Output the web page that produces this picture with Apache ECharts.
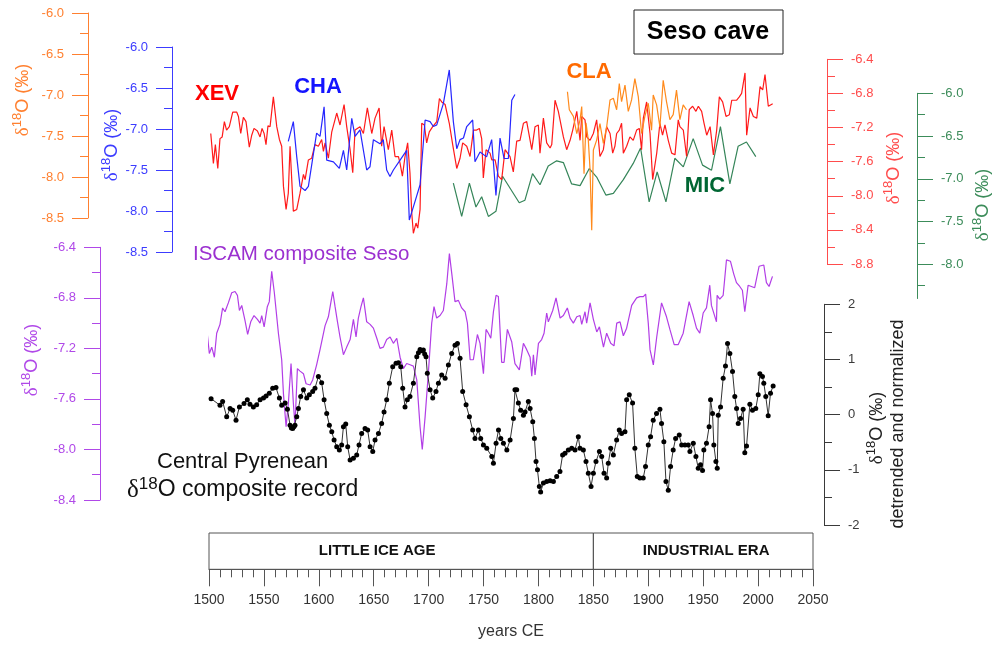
<!DOCTYPE html>
<html><head><meta charset="utf-8">
<script src="https://cdn.jsdelivr.net/npm/echarts@6/dist/echarts.min.js"></script>
<style>html,body{margin:0;padding:0;background:#fff}#c{width:994px;height:645px}</style>
</head><body><div id="c"></div><script>
// ---------- DATA (year CE, δ18O ‰) ----------
const xev = [[1501.6,-7.27],[1504,-7.62],[1505.8,-7.40],[1508,-7.68],[1510,-7.33],[1512,-7.31],[1514,-7.13],[1516,-7.23],[1518.5,-7.19],[1521.6,-7.02],[1525.3,-7.02],[1526.8,-7.07],[1528.9,-7.27],[1531.3,-7.08],[1533.7,-7.13],[1536.7,-7.43],[1538.9,-7.29],[1541,-7.21],[1544.1,-7.24],[1546.5,-7.31],[1548.3,-7.21],[1550.2,-7.27],[1551.9,-7.40],[1553.7,-7.18],[1555.6,-7.19],[1558.6,-6.84],[1561.7,-7.19],[1564.1,-7.34],[1566.2,-7.42],[1567.8,-7.89],[1570.2,-8.16],[1572.2,-7.97],[1573.8,-7.42],[1576.8,-8.18],[1579.9,-8.16],[1582.9,-7.97],[1586,-7.75],[1587.5,-7.81],[1590.5,-7.58],[1593.5,-7.56],[1596.5,-7.40],[1599.6,-7.42],[1602.6,-7.34],[1604.2,-7.48],[1605.7,-7.38],[1608.7,-7.56],[1611.8,-7.25],[1614.7,-7.11],[1616.3,-7.03],[1619.3,-7.17],[1623,-6.93],[1625.4,-7.19],[1628.5,-7.46],[1630.9,-7.73],[1633,-7.23],[1637.5,-7.19],[1640.6,-7.27],[1644.2,-6.97],[1648.2,-7.27],[1651.2,-7.09],[1654.9,-6.97],[1657.2,-7.42],[1659.4,-7.19],[1663.3,-7.46],[1666.4,-7.23],[1669.4,-7.54],[1672.5,-7.54],[1674,-7.62],[1676.1,-7.77],[1678.5,-7.54],[1680.9,-7.38],[1683,-7.73],[1684.6,-8.20],[1686.1,-8.44],[1688.5,-8.32],[1690.1,-8.38],[1692.2,-8.16],[1693.7,-7.15],[1696.1,-7.17],[1698.2,-7.38],[1700.6,-7.25],[1703.7,-7.19],[1707.4,-7.13],[1709.8,-6.86],[1711.9,-6.90],[1715,-6.93],[1718.8,-7.15],[1721.9,-7.40],[1725.6,-7.68],[1728.6,-7.56],[1731,-7.38],[1734.7,-7.42],[1737.7,-7.54],[1740.8,-7.23],[1743.7,-7.23],[1746.2,-7.21],[1748.3,-7.33],[1749.8,-7.79],[1752.3,-7.46],[1755.9,-7.50],[1757.5,-7.58],[1760.5,-7.58],[1763.5,-7.77],[1766.5,-7.81],[1769.6,-7.46],[1774.1,-7.54],[1777.1,-7.72],[1780.2,-7.36],[1783.2,-7.35],[1786.3,-7.15],[1789.3,-7.13],[1792.4,-7.35],[1793.9,-7.46],[1796.9,-7.19],[1799.9,-7.17],[1801.4,-7.50],[1804.5,-7.09],[1807.5,-7.38],[1810.6,-7.44],[1812.1,-7.40],[1815.1,-6.88],[1818.1,-7.01],[1819.6,-6.99],[1822.7,-7.31],[1825.7,-7.46],[1828.8,-7.35],[1831.2,-7.23],[1834.9,-7.01],[1837.9,-7.35],[1839.4,-7.07],[1842.4,-7.11],[1843.9,-7.31],[1847,-7.35],[1850,-7.27],[1853,-7.11],[1856,-7.54],[1859.1,-7.46],[1862.1,-7.19],[1865.2,-7.27],[1867.6,-7.50],[1869.6,-7.42],[1871.2,-7.27],[1873.6,-7.23],[1875.7,-7.15],[1877.3,-7.50],[1880.3,-7.42],[1883.3,-7.31],[1886.3,-7.35],[1889.4,-7.23],[1891.8,-7.21],[1893.9,-7.46],[1895.5,-7.09],[1898.5,-6.90],[1901.6,-7.27],[1904,-7.81],[1907.7,-7.50],[1910.6,-7.15],[1913,-7.29],[1915.2,-7.17],[1918.2,-7.35],[1921.3,-7.50],[1924.3,-7.52],[1927.3,-7.11],[1928.8,-7.19],[1931.9,-7.23],[1934.9,-7.54],[1937.3,-6.99],[1940.4,-6.95],[1943.4,-7.01],[1945.6,-6.95],[1948.6,-7.01],[1950.8,-7.15],[1953.2,-7.29],[1956.3,-7.19],[1959.3,-7.52],[1962.3,-7.23],[1964.7,-6.84],[1967.7,-6.90],[1970.8,-7.07],[1973.8,-7.05],[1976,-6.88],[1977.5,-6.90],[1980.5,-6.88],[1982.9,-6.84],[1985,-6.80],[1988.1,-6.56],[1989.6,-7.29],[1992.7,-6.97],[1995.7,-7.07],[1998.8,-7.09],[2001.8,-6.72],[2004.2,-6.76],[2006.3,-6.58],[2009.3,-6.95],[2013.3,-6.92]];

const cha = [[1572.2,-7.15],[1576.8,-6.91],[1579.9,-7.34],[1582.9,-7.70],[1587.5,-7.75],[1590.5,-7.70],[1595.1,-7.30],[1598,-7.05],[1601.1,-7.09],[1604.8,-6.73],[1607.2,-7.38],[1613.3,-7.40],[1618.7,-7.48],[1622.4,-7.26],[1625.4,-7.50],[1630,-6.87],[1633,-7.09],[1637.5,-7.01],[1643.6,-7.50],[1646.6,-7.46],[1649.7,-7.13],[1655.7,-7.18],[1658.7,-7.13],[1661.8,-7.50],[1664.8,-7.58],[1667.9,-7.50],[1674,-7.38],[1680,-7.26],[1682.4,-8.11],[1686.1,-7.95],[1692.2,-7.68],[1696.8,-6.89],[1701.3,-6.91],[1704.3,-6.97],[1707.4,-6.95],[1713.4,-6.69],[1718.8,-6.28],[1722.5,-6.91],[1725.6,-7.24],[1728.6,-7.13],[1731.7,-7.11],[1734.7,-6.97],[1740.1,-6.89],[1742.2,-7.40],[1746.8,-7.28],[1752.8,-7.34],[1757.4,-7.13],[1761.3,-7.81],[1765,-7.11],[1768.7,-7.36],[1772.6,-7.36],[1775.7,-6.65],[1778.6,-6.58]];

const cla = [[1826.4,-6.96],[1828.1,-7.18],[1831.8,-7.26],[1834.9,-7.47],[1837.9,-7.30],[1839.4,-7.14],[1841.5,-7.96],[1843.3,-7.34],[1845.4,-7.55],[1847,-7.91],[1848.5,-8.65],[1850,-7.67],[1853,-7.55],[1856,-7.35],[1859.1,-7.59],[1862.1,-7.39],[1865.2,-7.06],[1868.2,-7.04],[1871.2,-7.18],[1873.6,-6.86],[1875.7,-7.08],[1878.8,-6.88],[1881.8,-7.20],[1884.8,-7.06],[1887.8,-6.80],[1890.9,-7.02],[1893.9,-7.47],[1896.9,-7.26],[1900,-7.10],[1903,-7.43],[1904.5,-7.00],[1907.6,-7.12],[1910.6,-7.39],[1913.6,-6.82],[1916.6,-7.08],[1919.7,-7.30],[1922.7,-7.24],[1925.7,-6.94],[1928.8,-7.30],[1931.8,-7.12],[1934.8,-7.18]];

const mic = [[1722.5,-7.05],[1730.1,-7.44],[1737.1,-7.05],[1743.1,-7.33],[1748.3,-7.21],[1754.4,-7.44],[1761.3,-7.38],[1767.3,-6.97],[1782.5,-7.28],[1787.7,-7.25],[1794.6,-6.94],[1801.4,-7.07],[1808.9,-6.85],[1816.6,-6.79],[1822.7,-6.81],[1830.2,-7.06],[1837.9,-7.08],[1846.3,-6.88],[1853,-6.98],[1861.4,-7.19],[1868.2,-7.17],[1877.3,-7.01],[1886.3,-6.82],[1893,-6.64],[1900.8,-7.27],[1908.1,-6.92],[1916.1,-7.27],[1924.2,-6.76],[1931.9,-6.86],[1940.9,-6.53],[1949.4,-6.84],[1957.6,-6.90],[1965.7,-6.39],[1974.3,-7.06],[1981.8,-6.62],[1989.4,-6.57],[1997.9,-6.74]];

const iscam = [[1497.3,-6.99],[1500.3,-7.24],[1502.5,-7.19],[1504.9,-7.27],[1507,-7.08],[1510,-7.01],[1512.4,-6.88],[1514.6,-6.91],[1517.6,-6.84],[1520.7,-6.76],[1523.7,-6.75],[1525.9,-6.78],[1527.7,-6.90],[1529.8,-6.86],[1532.8,-6.98],[1535.2,-7.09],[1538,-6.99],[1541,-6.94],[1544.1,-6.97],[1546.5,-7.00],[1548,-6.94],[1550.2,-7.03],[1553.1,-6.87],[1554.9,-6.83],[1557.1,-6.59],[1559.5,-6.76],[1563.2,-7.08],[1566.2,-7.29],[1567.8,-7.56],[1570.2,-7.82],[1572.3,-7.63],[1574.7,-7.32],[1576.8,-7.63],[1578.3,-7.81],[1580.5,-7.36],[1582.9,-7.38],[1586,-7.40],[1588.4,-7.48],[1592.1,-7.49],[1594.4,-7.45],[1598,-7.33],[1601.1,-7.21],[1603.5,-7.11],[1605.7,-7.02],[1608.7,-6.95],[1610.9,-6.84],[1612.7,-6.75],[1614.8,-6.87],[1617,-6.99],[1619.3,-7.11],[1622.4,-7.25],[1625.4,-7.19],[1628.5,-7.13],[1631.5,-6.97],[1633.9,-7.11],[1636,-6.96],[1638.4,-6.87],[1640.6,-6.80],[1643.6,-6.99],[1646.7,-7.01],[1649.7,-7.04],[1652.8,-7.12],[1655.7,-7.20],[1658.8,-7.19],[1661.8,-7.13],[1664.9,-7.11],[1667.9,-7.16],[1671,-7.12],[1674,-7.27],[1677,-7.36],[1680,-7.32],[1683.1,-7.33],[1686.1,-7.34],[1689.2,-7.45],[1692.2,-7.82],[1694.2,-8.00],[1696.8,-7.74],[1699.7,-7.40],[1702.8,-7.00],[1704.9,-6.87],[1707.3,-6.96],[1710.4,-6.94],[1713.4,-6.90],[1716.5,-6.69],[1718.9,-6.45],[1721.1,-6.61],[1724,-6.83],[1727.1,-6.82],[1730.1,-6.88],[1733.2,-6.91],[1735.3,-7.00],[1737.8,-7.29],[1740.7,-7.29],[1744.4,-7.09],[1746.8,-7.16],[1749.9,-7.40],[1752.3,-7.05],[1754.4,-7.08],[1756.6,-7.12],[1759,-6.91],[1761.4,-6.78],[1763.5,-6.79],[1766.5,-7.31],[1768.7,-7.31],[1771.7,-7.05],[1775.7,-7.15],[1778.6,-7.32],[1782.6,-7.37],[1786.3,-7.16],[1789.3,-7.21],[1792.4,-7.27],[1793.9,-7.42],[1795.4,-7.25],[1796.9,-7.41],[1800,-7.16],[1802.9,-7.13],[1805.1,-7.08],[1807.5,-6.92],[1809,-6.99],[1813,-6.90],[1816,-6.80],[1819.7,-6.96],[1822.7,-6.94],[1826.3,-6.88],[1828.8,-6.96],[1831.8,-7.00],[1834.9,-6.95],[1837.9,-6.94],[1839.4,-7.01],[1842.4,-6.91],[1843.9,-7.00],[1847,-6.84],[1850,-6.97],[1853.1,-7.07],[1855.5,-7.03],[1859.2,-7.19],[1862.1,-7.08],[1865.8,-7.16],[1868.8,-7.18],[1871.3,-7.00],[1874.3,-6.99],[1877.3,-7.10],[1880.3,-7.04],[1884.9,-6.86],[1889.4,-6.80],[1892.4,-6.79],[1895.5,-6.79],[1897.6,-6.77],[1900,-7.00],[1901.6,-7.21],[1904.6,-7.33],[1907.7,-7.11],[1912.1,-6.84],[1916.6,-6.95],[1919.7,-7.05],[1923.6,-7.17],[1927.3,-7.17],[1931.8,-7.08],[1937.2,-6.83],[1940.9,-6.94],[1943.9,-7.04],[1946.9,-7.08],[1950,-6.92],[1953,-6.88],[1956,-6.70],[1957.5,-6.86],[1959,-6.87],[1962.1,-6.99],[1962.7,-6.78],[1965.1,-6.81],[1968.2,-6.78],[1971.2,-6.50],[1974.8,-6.51],[1977.8,-6.61],[1980.3,-6.68],[1983.3,-6.71],[1985.7,-6.74],[1987.9,-6.91],[1990.9,-6.70],[1993.9,-6.71],[1996.9,-6.72],[2000.9,-6.55],[2005.2,-6.54],[2007.6,-6.68],[2010,-6.71],[2013.1,-6.63]];

// detrended and normalized composite (‰, z-units)
const pyrenean = [[1501.9,0.29],[1510,0.17],[1512.4,0.24],[1516.1,-0.04],[1519.2,0.11],[1521.6,0.08],[1524.6,-0.10],[1527.7,0.14],[1531.9,0.20],[1534.9,0.27],[1537.3,0.19],[1540.4,0.14],[1543.4,0.18],[1546.5,0.27],[1549.6,0.30],[1552,0.34],[1554.9,0.39],[1558,0.48],[1561,0.49],[1564.1,0.30],[1566.2,0.17],[1569.3,0.21],[1571.4,0.10],[1573.8,-0.19],[1575,-0.24],[1576.2,-0.25],[1577.3,-0.22],[1578.3,-0.19],[1579.9,-0.04],[1581.4,0.11],[1583.5,0.33],[1586,0.45],[1589,0.30],[1591.4,0.36],[1594.4,0.42],[1596.5,0.48],[1599.6,0.69],[1602.6,0.58],[1604.8,0.27],[1607.2,0.02],[1609.6,-0.19],[1611.8,-0.31],[1613.9,-0.46],[1616.3,-0.58],[1618.7,-0.64],[1620.8,-0.55],[1622.4,-0.22],[1624.5,-0.17],[1626.3,-0.58],[1628.5,-0.82],[1631.5,-0.79],[1634.5,-0.73],[1636.6,-0.55],[1639,-0.34],[1642.1,-0.25],[1644.5,-0.28],[1646.7,-0.58],[1649.1,-0.67],[1651.2,-0.46],[1654.3,-0.34],[1657.2,-0.16],[1659.4,0.05],[1661.8,0.27],[1664.2,0.57],[1667.3,0.87],[1670.3,0.93],[1672.5,0.94],[1674.6,0.87],[1676.4,0.48],[1678.5,0.14],[1680.6,0.27],[1683,0.33],[1686.1,0.57],[1689.2,1.05],[1690.7,1.12],[1692.2,1.18],[1693.7,1.16],[1695.2,1.17],[1696.4,1.10],[1697.6,1.05],[1698.8,0.75],[1701.3,0.45],[1703.7,0.30],[1706.7,0.42],[1708.9,0.57],[1711.9,0.72],[1715,0.66],[1718,0.90],[1721,1.11],[1724,1.26],[1726.2,1.29],[1728.6,1.02],[1731,0.42],[1734.1,0.18],[1737.1,-0.04],[1740.1,-0.28],[1742.2,-0.43],[1745.3,-0.28],[1747.4,-0.43],[1749.9,-0.55],[1752.9,-0.61],[1757.5,-0.76],[1759,-0.88],[1761.4,-0.52],[1763.6,-0.28],[1765.7,-0.43],[1768.1,-0.52],[1771.2,-0.64],[1774.2,-0.46],[1777.2,-0.07],[1778.6,0.45],[1780.2,0.45],[1781.7,0.21],[1783.8,0.08],[1786.3,-0.01],[1787.8,0.05],[1790.8,0.24],[1792.4,0.11],[1794.8,-0.13],[1796.3,-0.43],[1797.8,-0.85],[1799.1,-1.00],[1800.8,-1.30],[1802,-1.40],[1804.5,-1.24],[1807.5,-1.21],[1810.6,-1.20],[1813.6,-1.21],[1816.6,-1.12],[1819.6,-1.03],[1822,-0.73],[1824.2,-0.70],[1827.2,-0.64],[1830.3,-0.61],[1833.3,-0.64],[1836.3,-0.40],[1837.8,-0.61],[1840.9,-0.64],[1843.3,-0.85],[1845.4,-1.06],[1847.9,-1.30],[1850,-1.06],[1852.4,-0.85],[1855.5,-0.67],[1857.6,-0.76],[1859.7,-1.06],[1862.1,-1.15],[1863.6,-0.88],[1865.8,-0.61],[1868.2,-0.73],[1871.2,-0.46],[1873.6,-0.28],[1875.7,-0.34],[1878.8,-0.31],[1880.3,0.27],[1882.7,0.36],[1885.7,0.21],[1887.8,-0.61],[1890,-1.12],[1892.4,-1.15],[1895.4,-1.15],[1897.5,-0.94],[1900,-0.55],[1902.1,-0.40],[1904.5,-0.10],[1907.5,0.02],[1910.6,0.10],[1912.1,-0.16],[1914.2,-0.49],[1916.1,-1.21],[1918.2,-1.37],[1920.3,-0.94],[1922.7,-0.64],[1924.9,-0.43],[1928.2,-0.37],[1930.4,-0.55],[1933.4,-0.55],[1936.4,-0.55],[1937.9,-0.67],[1941,-0.52],[1943.4,-0.76],[1945.5,-0.97],[1947.6,-0.91],[1949.4,-1.01],[1950.6,-0.64],[1953,-0.52],[1955.4,-0.22],[1956.7,0.27],[1958.5,0.02],[1959.7,-0.55],[1961.6,-0.85],[1962.8,-0.97],[1963.7,-0.01],[1965.8,0.14],[1968.2,0.66],[1970.3,0.88],[1972.2,1.29],[1974.3,1.11],[1976.7,0.78],[1978.8,0.33],[1980.4,0.11],[1981.9,-0.16],[1984,-0.07],[1986.4,0.10],[1987.9,-0.69],[1989.5,-0.57],[1992.5,0.19],[1994.9,0.08],[1997.9,0.11],[2000.1,0.36],[2001.6,0.74],[2004,0.69],[2005.2,0.57],[2007,0.33],[2009.2,-0.02],[2011.3,0.39],[2013.7,0.52]];

const eraNames = ['LITTLE ICE AGE', 'INDUSTRIAL ERA'];
const eraStart = [1500, 1850];
const eraEnd = [1850, 2050];

const xTicks = {min: 1500, max: 2050, interval: 50};
const greenMajor = [-8.0, -7.5, -7.0, -6.5, -6.0];
const greenMinor = [-8.25, -7.75, -7.25, -6.75, -6.25];

// ---------- STYLE ----------
const FONT = "'Liberation Sans', Arial, Helvetica, sans-serif";
const C = {
  orangeAx: '#ff8030', orange: '#ff8a1c',
  blueAx: '#3c3cff', blue: '#2626ff',
  redAx: '#ff4c4c', red: '#ff1a1a',
  greenAx: '#3c8c5a', green: '#358559',
  purpleAx: '#b048e8', purple: '#b23ee6',
  blackAx: '#3a3a3a'
};
const L = 209, R = 181;
const grid = [
  {left: L, right: R, top: 13, height: 205},
  {left: L, right: R, top: 47, height: 205},
  {left: L, right: R, top: 59.3, height: 204.7},
  {left: L, right: R, top: 93.3, height: 205.2},
  {left: L, right: R, top: 247.3, height: 252.7},
  {left: L, right: R, top: 304.3, height: 220.7},
  {left: L, right: R, top: 533, height: 36.3}
];
const xAxis = [];
for (let i = 0; i < 6; i++) xAxis.push({gridIndex: i, type: 'value', min: xTicks.min, max: xTicks.max, show: false});
xAxis.push({
  gridIndex: 6, type: 'value', min: xTicks.min, max: xTicks.max, interval: xTicks.interval, position: 'bottom',
  axisLine: {show: true, lineStyle: {color: '#555', width: 1}},
  axisTick: {show: true, length: 17, lineStyle: {color: '#555'}},
  minorTick: {show: true, splitNumber: 5, length: 8, lineStyle: {color: '#555'}},
  splitLine: {show: false},
  axisLabel: {fontSize: 14, color: '#333', margin: 24, fontFamily: FONT, showMaxLabel: true, showMinLabel: true,
    formatter: v => String(Math.round(v))},
  name: 'years CE', nameLocation: 'middle', nameGap: 54,
  nameTextStyle: {fontSize: 16, color: '#333', fontFamily: FONT}
});

function yax(gi, pos, off, min, max, interval, color, dec) {
  return {
    gridIndex: gi, type: 'value', position: pos, offset: off, min: min, max: max, interval: interval,
    splitLine: {show: false},
    axisLine: {show: true, lineStyle: {color: color, width: 1}},
    axisTick: {show: true, length: 16, lineStyle: {color: color}},
    minorTick: {show: true, splitNumber: 2, length: 8, lineStyle: {color: color}},
    axisLabel: {color: color, fontSize: 13, margin: 24, fontFamily: FONT,
      formatter: v => Number(v).toFixed(dec)}
  };
}
const greenAxis = yax(3, 'right', 104, -8.4, -6.0, 0.5, C.greenAx, 1);
greenAxis.minorTick = {show: false};
greenAxis.axisTick.customValues = greenMajor;
greenAxis.axisLabel.customValues = greenMajor;
const greenMinorAxis = {
  gridIndex: 3, type: 'value', position: 'right', offset: 104, min: -8.4, max: -6.0, interval: 0.5,
  splitLine: {show: false}, axisLine: {show: false}, axisLabel: {show: false},
  axisTick: {show: true, length: 8, customValues: greenMinor, lineStyle: {color: C.greenAx}}
};
const yAxis = [
  yax(0, 'left', 121, -8.5, -6.0, 0.5, C.orangeAx, 1),
  yax(1, 'left', 37, -8.5, -6.0, 0.5, C.blueAx, 1),
  yax(2, 'right', 14, -8.8, -6.4, 0.4, C.redAx, 1),
  greenAxis,
  greenMinorAxis,
  yax(4, 'left', 109, -8.4, -6.4, 0.4, C.purpleAx, 1),
  yax(5, 'right', 11, -2, 2, 1, C.blackAx, 0),
  {gridIndex: 6, type: 'value', min: 0, max: 1, show: false}
];

function line(data, xi, yi, color, z) {
  return {type: 'line', data: data, xAxisIndex: xi, yAxisIndex: yi, showSymbol: false, symbol: 'none',
    lineStyle: {color: color, width: 1.2}, itemStyle: {color: color}, z: z, silent: true, animation: false, clip: false};
}

const series = [
  line(mic, 3, 3, C.green, 2),
  line(xev, 2, 2, C.red, 3),
  line(cla, 0, 0, C.orange, 4),
  line(cha, 1, 1, C.blue, 5),
  line(iscam, 4, 5, C.purple, 3),
  {type: 'line', data: pyrenean, xAxisIndex: 5, yAxisIndex: 6, symbol: 'circle', symbolSize: 5, showSymbol: true,
    lineStyle: {color: '#333', width: 1}, itemStyle: {color: '#000'}, z: 6, silent: true, animation: false},
  {type: 'scatter', data: [], xAxisIndex: 6, yAxisIndex: 7, silent: true,
    markArea: {silent: true,
      itemStyle: {color: 'rgba(0,0,0,0)', borderColor: '#555', borderWidth: 1},
      label: {show: true, position: 'inside', fontSize: 15, fontWeight: 'bold', color: '#111', fontFamily: FONT},
      emphasis: {disabled: true},
      data: eraNames.map((n, i) => [
        {name: n, xAxis: eraStart[i], label: {offset: [i === 0 ? -24 : 3, 0]}},
        {xAxis: eraEnd[i]}
      ])}
  }
];

function title(x, y, color) {
  return {type: 'text', x: x, y: y, rotation: Math.PI / 2, silent: true,
    style: {text: '{d|δ}{s|18}{o|O (‰)}', align: 'center', verticalAlign: 'middle',
      textAlign: 'center', textVerticalAlign: 'middle', fill: color,
      rich: {
        d: {fontFamily: "'Liberation Serif', 'DejaVu Serif', serif", fontSize: 19, lineHeight: 24, fill: color},
        s: {fontFamily: FONT, fontSize: 13, lineHeight: 13, verticalAlign: 'top', fill: color},
        o: {fontFamily: FONT, fontSize: 18, lineHeight: 24, fill: color}
      }}};
}
function label(x, y, txt, color, size, weight, align) {
  return {type: 'text', x: x, y: y, silent: true,
    style: {text: txt, fill: color, font: (weight || 'normal') + ' ' + size + 'px ' + FONT,
      align: align || 'center', verticalAlign: 'middle', textAlign: align || 'center', textVerticalAlign: 'middle'}};
}
const graphic = [
  title(23, 100, C.orangeAx),
  title(112, 145, C.blueAx),
  title(894, 168, C.redAx),
  title(983, 205, C.greenAx),
  title(32, 360, C.purpleAx),
  title(877, 428, '#222'),
  {type: 'text', x: 898, y: 424, rotation: Math.PI / 2, silent: true,
    style: {text: 'detrended and normalized', fill: '#222', font: '18px ' + FONT,
      align: 'center', verticalAlign: 'middle', textAlign: 'center', textVerticalAlign: 'middle'}},
  {type: 'rect', shape: {x: 634, y: 10, width: 149, height: 44}, silent: true,
    style: {fill: '#fff', stroke: '#222', lineWidth: 1}},
  label(708, 32, 'Seso cave', '#000', 25, 'bold'),
  label(217, 94, 'XEV', '#ff0000', 22, 'bold'),
  label(318, 87, 'CHA', '#1414ff', 22, 'bold'),
  label(589, 72, 'CLA', '#ff6a00', 22, 'bold'),
  label(705, 186, 'MIC', '#006633', 22, 'bold'),
  label(193, 254, 'ISCAM composite Seso', '#9b30d0', 20.5, 'normal', 'left'),
  label(157, 462, 'Central Pyrenean', '#111', 22, 'normal', 'left'),
  {type: 'text', x: 127, y: 490, silent: true,
    style: {text: '{d|δ}{s|18}{o|O composite record}', fill: '#111', align: 'left', verticalAlign: 'middle',
      textAlign: 'left', textVerticalAlign: 'middle',
      rich: {
        d: {fontFamily: "'Liberation Serif', 'DejaVu Serif', serif", fontSize: 25, lineHeight: 28, fill: '#111'},
        s: {fontFamily: FONT, fontSize: 17, lineHeight: 16, verticalAlign: 'top', fill: '#111'},
        o: {fontFamily: FONT, fontSize: 23, lineHeight: 28, fill: '#111'}
      }}}
];

const chart = echarts.init(document.getElementById('c'), null, {renderer: 'canvas'});
chart.setOption({
  animation: false,
  backgroundColor: '#fff',
  textStyle: {fontFamily: FONT},
  grid: grid, xAxis: xAxis, yAxis: yAxis, series: series, graphic: graphic
});
</script></body></html>
